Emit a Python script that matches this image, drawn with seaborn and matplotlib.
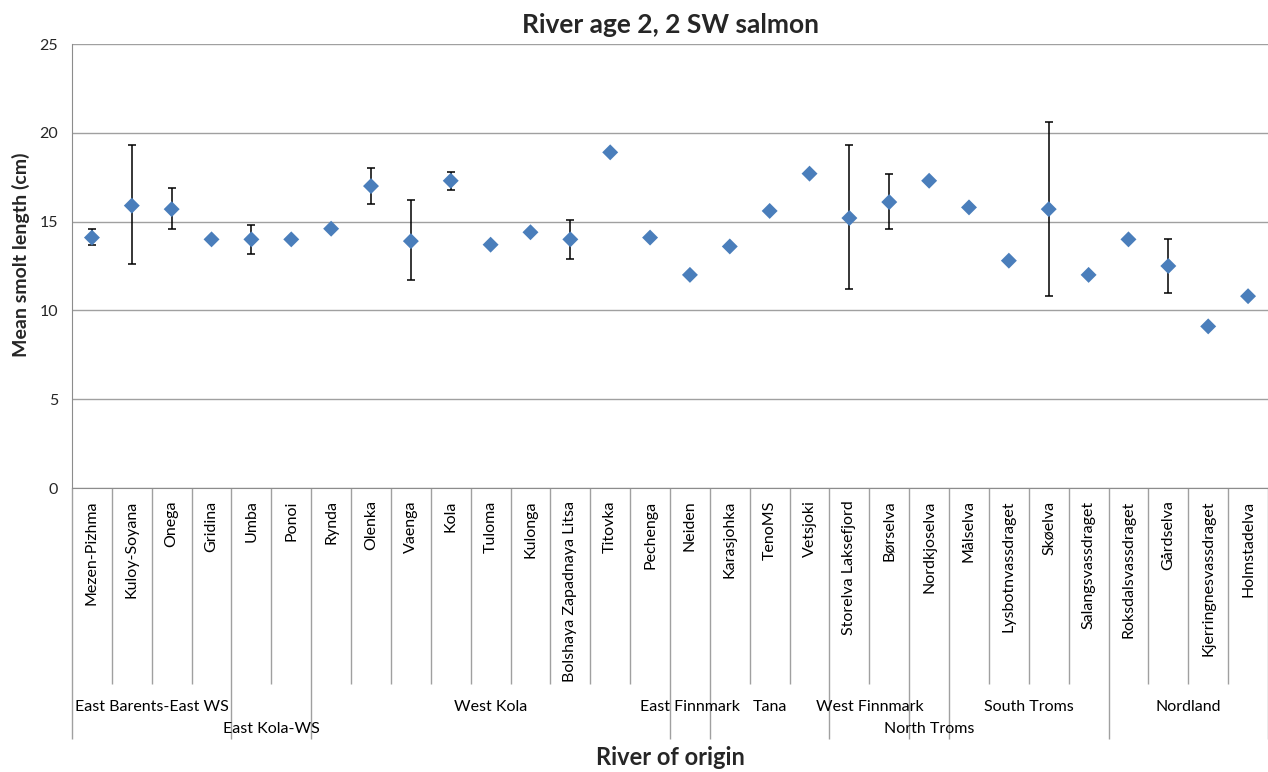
import numpy as np
import pandas as pd
import matplotlib
matplotlib.use("Agg")
import matplotlib.pyplot as plt
import seaborn as sns

# river names, in plotting order
rivers = ["Mezen-Pizhma", "Kuloy-Soyana", "Onega", "Gridina", "Umba", "Ponoi",
          "Rynda", "Olenka", "Vaenga", "Kola", "Tuloma", "Kulonga",
          "Bolshaya Zapadnaya Litsa", "Titovka", "Pechenga", "Neiden",
          "Karasjohka", "TenoMS", "Vetsjoki", "Storelva Laksefjord", "Børselva",
          "Nordkjoselva", "Målselva", "Lysbotnvassdraget", "Skøelva",
          "Salangsvassdraget", "Roksdalsvassdraget", "Gårdselva",
          "Kjerringnesvassdraget", "Holmstadelva"]

# mean smolt length (cm)
mean_len = [14.1, 15.9, 15.7, 14.0, 14.0, 14.0,
            14.6, 17.0, 13.9, 17.3, 13.7, 14.4,
            14.0, 18.9, 14.1, 12.0,
            13.6, 15.6, 17.7, 15.2, 16.1,
            17.3, 15.8, 12.8, 15.7,
            12.0, 14.0, 12.5,
            9.1, 10.8]

# error bar ends (None = no error bar)
err_low = [13.7, 12.6, 14.6, None, 13.2, None,
           None, 16.0, 11.7, 16.8, None, None,
           12.9, None, None, None,
           None, None, None, 11.2, 14.6,
           None, None, None, 10.8,
           None, None, 11.0,
           None, None]
err_high = [14.6, 19.3, 16.9, None, 14.8, None,
            None, 18.0, 16.2, 17.8, None, None,
            15.1, None, None, None,
            None, None, None, 19.3, 17.7,
            None, None, None, 20.6,
            None, None, 14.0,
            None, None]

# region groups and how many rivers each holds
groups = ["East Barents-East WS", "East Kola-WS", "West Kola", "East Finnmark",
          "Tana", "West Finnmark", "North Troms", "South Troms", "Nordland"]
group_sizes = [4, 2, 9, 1, 3, 2, 1, 4, 4]
lower_row = ["East Kola-WS", "North Troms"]

df = pd.DataFrame({"river": rivers, "mean": mean_len,
                   "lo": pd.to_numeric(pd.Series(err_low, dtype=object)),
                   "hi": pd.to_numeric(pd.Series(err_high, dtype=object))})

sns.set_style("white")
plt.rcParams["font.family"] = ["Lato", "DejaVu Sans"]

W, H = 1268, 772
fig = plt.figure(figsize=(W / 100, H / 100), dpi=100)
ax = fig.add_axes([72 / W, (H - 488) / H, (W - 72) / W, 444 / H])

grey = "#a0a0a0"
blue = "#4a7ebb"

sns.scatterplot(data=df, x="river", y="mean", marker="D", s=66,
                color=blue, edgecolor="none", zorder=3, ax=ax)

eb = df.dropna(subset=["lo", "hi"])
ax.errorbar(eb["river"], eb["mean"],
            yerr=[eb["mean"] - eb["lo"], eb["hi"] - eb["mean"]],
            fmt="none", ecolor="black", elinewidth=1.1, capsize=3,
            capthick=1.1, zorder=2)

ax.set_xlim(-0.5, len(rivers) - 0.5)
ax.set_ylim(0, 25)
ax.set_yticks(range(0, 26, 5))
ax.yaxis.grid(True, color=grey, lw=1)
ax.set_axisbelow(True)
for side in ["top", "right"]:
    ax.spines[side].set_visible(False)
for side in ["left", "bottom"]:
    ax.spines[side].set_color("#8c8c8c")

ax.tick_params(axis="y", direction="out", length=5, color="#8c8c8c",
               labelsize=11.5, pad=5, labelcolor="#262626")
ax.tick_params(axis="x", length=0, pad=9, labelsize=11.5, labelcolor="black")
plt.setp(ax.get_xticklabels(), rotation=90, va="top", ha="center")

# category separators and group boundaries below the axis
trans = ax.get_xaxis_transform()
bounds = np.cumsum([0] + group_sizes) - 0.5
inner = [i - 0.5 for i in range(1, len(rivers)) if (i - 0.5) not in bounds]
ax.vlines(inner, -0.442, 0, transform=trans, color=grey, lw=1, clip_on=False)
ax.vlines(bounds, -0.566, 0, transform=trans, color=grey, lw=1, clip_on=False)

for g, a, b in zip(groups, bounds[:-1], bounds[1:]):
    yy = -0.543 if g in lower_row else -0.493
    ax.text((a + b) / 2, yy, g, transform=trans, ha="center", va="center",
            fontsize=11.5, color="black")

ax.set_title("River age 2, 2 SW salmon", fontsize=19, fontweight="bold", pad=8)
ax.set_ylabel("Mean smolt length (cm)", fontsize=14, fontweight="bold")
ax.yaxis.set_label_coords(-0.035, 0.525)
ax.set_xlabel("River of origin", fontsize=17, fontweight="bold")
ax.xaxis.set_label_coords(0.5, -0.606)
ax.xaxis.label.set_va("center")

fig.savefig("out.png", dpi=100)
